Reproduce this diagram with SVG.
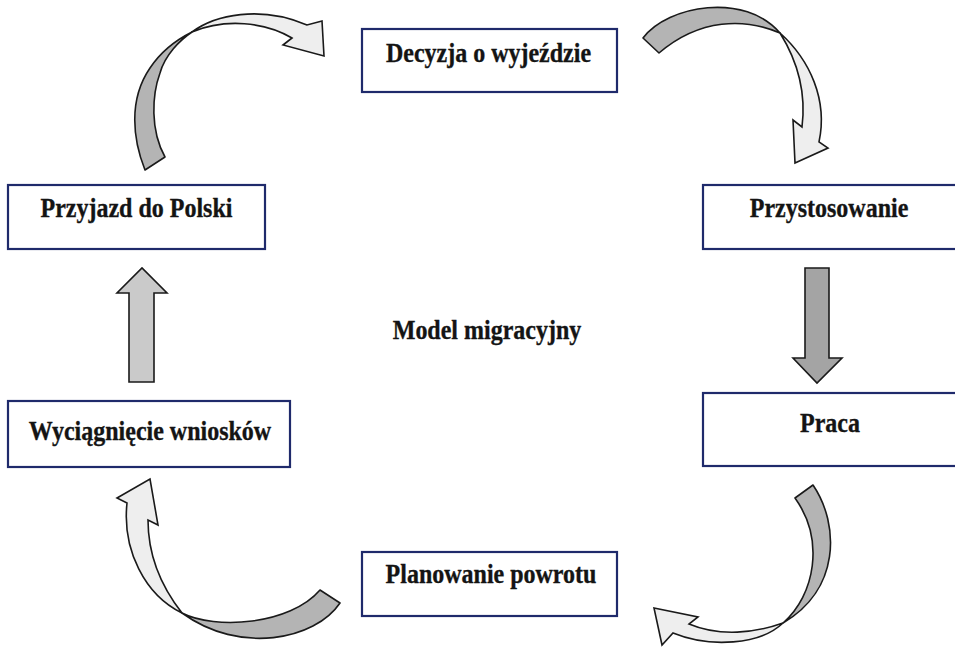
<svg xmlns="http://www.w3.org/2000/svg" width="955" height="649" viewBox="0 0 955 649">
<style>
.box{fill:#fff;stroke:#1f2a6b;stroke-width:2.2}
.lbl{font-family:"Liberation Serif","Times New Roman",serif;font-weight:bold;font-size:24px;fill:#141414;stroke:#141414;stroke-width:0.3;text-anchor:middle}
.dark{fill:#b4b4b4;stroke:#1a1a1a;stroke-width:1.6;stroke-linejoin:round}
.light{fill:#eeeeee;stroke:#1a1a1a;stroke-width:1.6;stroke-linejoin:miter}
.up{fill:#cacaca;stroke:#1a1a1a;stroke-width:1.6}
.down{fill:#a4a4a4;stroke:#1a1a1a;stroke-width:1.6}
</style>
<rect width="955" height="649" fill="#fff"/>
<g id="connectors">
  <g id="arrow-top-left">
    <path class="dark" d="M145,170 C133,140 128,100 150,68 C162,50 176,40 192,32 C180,40 165,55 160,73 C152,95 150,130 165,157 Z"/>
    <path class="light" d="M192,32 C215,15 260,5 307,25 L322,21 L324,56 L283,45 L292,38 C265,22 225,18 192,32 Z"/>
  </g>
  <g id="arrow-top-right">
    <path class="dark" d="M643,38 C668,5 745,-8 780,33 C745,18 700,18 659,53 Z"/>
    <path class="light" d="M780,33 C810,60 828,100 819,142 L828,148 L795,163 L793,120 L802,127 C806,95 800,65 780,33 Z"/>
  </g>
  <g id="arrow-down">
    <polygon class="down" points="805,268 829,268 829,358 842,358 817,383 793,358 805,358"/>
  </g>
  <g id="arrow-bottom-right">
    <path class="dark" d="M813,485 C840,525 840,590 783,623 C815,595 825,540 795,498 Z"/>
    <path class="light" d="M783,623 C760,645 710,648 673,633 L662,645 L654,608 L698,617 L689,624 C720,637 755,633 783,623 Z"/>
  </g>
  <g id="arrow-bottom-left">
    <path class="dark" d="M340,603 C315,640 240,655 182,613 C215,630 290,625 320,590 Z"/>
    <path class="light" d="M182,613 C145,595 122,550 127,503 L117,498 L150,479 L158,525 L148,520 C148,555 160,585 182,613 Z"/>
  </g>
  <g id="arrow-up">
    <polygon class="up" points="129,382 154,382 154,293 167,293 142,268 117,293 129,293"/>
  </g>
</g>
<g id="node-decyzja">
  <rect class="box" x="362" y="29" width="255" height="63"/>
  <text class="lbl" transform="translate(488.5,62) scale(1,1.13)">Decyzja o wyjeździe</text>
</g>
<g id="node-przystosowanie">
  <rect class="box" x="703" y="185" width="262" height="64"/>
  <text class="lbl" transform="translate(829,217) scale(1,1.13)">Przystosowanie</text>
</g>
<g id="node-praca">
  <rect class="box" x="703" y="393" width="262" height="73"/>
  <text class="lbl" transform="translate(830,432) scale(1,1.13)">Praca</text>
</g>
<g id="node-planowanie">
  <rect class="box" x="362" y="552" width="255" height="64"/>
  <text class="lbl" transform="translate(491,583) scale(1,1.13)">Planowanie powrotu</text>
</g>
<g id="node-wyciagniecie">
  <rect class="box" x="8" y="401" width="282" height="66"/>
  <text class="lbl" transform="translate(150,440) scale(1,1.13)">Wyciągnięcie wniosków</text>
</g>
<g id="node-przyjazd">
  <rect class="box" x="8" y="185" width="257" height="64"/>
  <text class="lbl" transform="translate(136.5,217) scale(1,1.13)">Przyjazd do Polski</text>
</g>
<g id="title">
  <text class="lbl" transform="translate(487,339) scale(1,1.13)">Model migracyjny</text>
</g>
</svg>
